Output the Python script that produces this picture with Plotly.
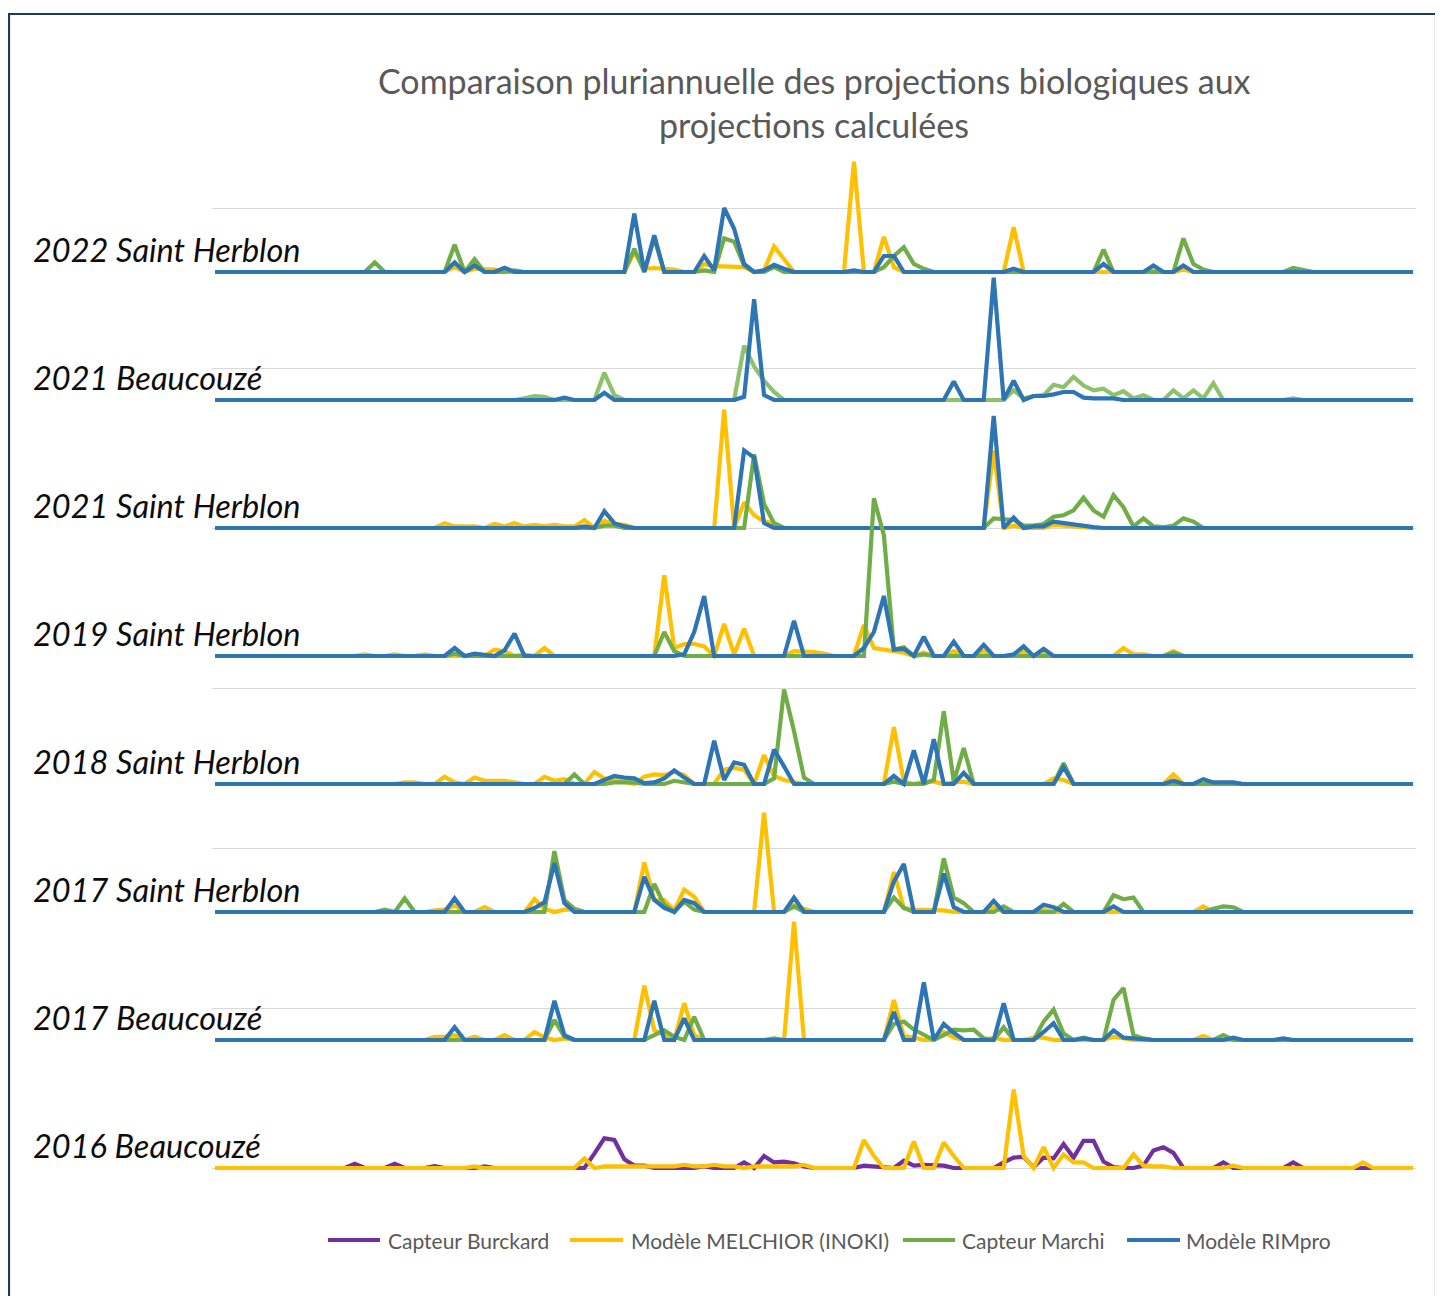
import plotly.graph_objects as go

# ---------------- DATA ----------------
N_DAYS = 121
DAYS = list(range(N_DAYS))

ROW_LABELS = ["2022 Saint Herblon", "2021 Beaucouzé", "2021 Saint Herblon", "2019 Saint Herblon",
              "2018 Saint Herblon", "2017 Saint Herblon", "2017 Beaucouzé", "2016 Beaucouzé"]
ROW_OFFSETS = [56, 48, 40, 32, 24, 16, 8, 0]

SERIES_NAMES = ["Capteur Burckard", "Modèle MELCHIOR (INOKI)", "Capteur Marchi", "Modèle RIMpro"]

# values per day index (days not listed are 0)
SH2022_MELCHIOR = {24: 0.3, 26: 0.2, 27: 0.15, 28: 0.15, 42: 1.25, 43: 0.2, 44: 0.25, 45: 0.2, 46: 0.15,
                   49: 0.5, 50: 0.35, 51: 0.35, 52: 0.3, 53: 0.3, 55: 0.1, 56: 1.6, 57: 0.8, 64: 6.9,
                   67: 2.2, 68: 0.3, 80: 2.8, 94: 0.1, 97: 0.15}
SH2022_MARCHI = {16: 0.6, 24: 1.7, 26: 0.8, 30: 0.1, 42: 1.45, 44: 2.1, 49: 0.1, 51: 2.1, 52: 1.9, 53: 0.4,
                 56: 0.3, 67: 0.3, 68: 1.0, 69: 1.55, 70: 0.5, 71: 0.2, 89: 1.4, 97: 2.1, 98: 0.5, 99: 0.15,
                 108: 0.25, 109: 0.1}
SH2022_RIMPRO = {24: 0.6, 26: 0.4, 29: 0.27, 42: 3.65, 44: 2.3, 49: 1.0, 50: 0.1, 51: 4.0, 52: 2.7, 53: 0.5,
                 55: 0.1, 56: 0.45, 57: 0.2, 64: 0.1, 67: 1.0, 68: 1.0, 80: 0.2, 89: 0.5, 94: 0.4, 97: 0.4}

B2021_MARCHI = {31: 0.1, 32: 0.25, 33: 0.2, 39: 1.7, 40: 0.3, 53: 3.4, 54: 2.1, 55: 1.2, 56: 0.5, 80: 0.6,
                81: 0.1, 82: 0.25, 83: 0.3, 84: 0.95, 85: 0.8, 86: 1.45, 87: 0.9, 88: 0.6, 89: 0.7, 90: 0.3,
                91: 0.55, 92: 0.1, 93: 0.3, 96: 0.6, 97: 0.1, 98: 0.6, 99: 0.1, 100: 1.05, 108: 0.1}
B2021_RIMPRO = {35: 0.15, 39: 0.45, 53: 0.2, 54: 6.3, 55: 0.3, 74: 1.15, 78: 7.65, 80: 1.2, 82: 0.25,
                83: 0.25, 84: 0.35, 85: 0.5, 86: 0.5, 87: 0.15, 88: 0.1, 89: 0.1, 90: 0.1}

SH2021_MELCHIOR = {23: 0.3, 24: 0.1, 25: 0.1, 26: 0.1, 28: 0.25, 29: 0.1, 30: 0.3, 31: 0.1, 32: 0.2,
                   33: 0.1, 34: 0.2, 35: 0.1, 36: 0.1, 37: 0.5, 39: 0.45, 40: 0.25, 41: 0.2, 51: 7.4,
                   53: 1.6, 54: 0.8, 55: 0.4, 56: 0.3, 78: 4.85, 80: 0.15, 84: 0.2, 85: 0.15, 86: 0.1}
SH2021_MARCHI = {39: 0.15, 40: 0.15, 54: 4.6, 55: 1.5, 56: 0.3, 78: 0.6, 79: 0.55, 80: 0.5, 81: 0.15,
                 82: 0.15, 83: 0.25, 84: 0.7, 85: 0.8, 86: 1.1, 87: 1.9, 88: 1.1, 89: 0.7, 90: 2.05,
                 91: 1.3, 92: 0.1, 93: 0.6, 94: 0.1, 95: 0.05, 96: 0.15, 97: 0.6, 98: 0.4}
SH2021_RIMPRO = {37: 0.1, 39: 1.05, 40: 0.3, 41: 0.1, 53: 4.85, 54: 4.4, 55: 0.3, 78: 7.0, 80: 0.65,
                 82: 0.1, 83: 0.1, 84: 0.4, 85: 0.3, 86: 0.2, 87: 0.1, 88: 0.05}

SH2019_MELCHIOR = {15: 0.1, 18: 0.1, 21: 0.1, 28: 0.4, 29: 0.3, 31: 0.1, 33: 0.5, 45: 5.05, 46: 0.5,
                   47: 0.75, 48: 0.75, 49: 0.6, 51: 2.0, 52: 0.1, 53: 1.7, 58: 0.3, 59: 0.3, 60: 0.25,
                   61: 0.15, 65: 1.95, 66: 0.5, 67: 0.4, 68: 0.3, 69: 0.2, 71: 0.2, 74: 0.3, 77: 0.3,
                   81: 0.3, 83: 0.2, 91: 0.5, 92: 0.1, 93: 0.1, 96: 0.3}
SH2019_MARCHI = {24: 0.15, 45: 1.5, 46: 0.3, 66: 9.85, 67: 7.55, 68: 0.4, 69: 0.55, 71: 0.1, 96: 0.2}
SH2019_RIMPRO = {24: 0.5, 26: 0.15, 27: 0.1, 29: 0.35, 30: 1.4, 47: 0.1, 48: 1.5, 49: 3.75, 58: 2.2,
                 65: 0.5, 66: 1.5, 67: 3.75, 68: 0.4, 69: 0.45, 71: 1.2, 74: 0.9, 77: 0.7, 80: 0.1,
                 81: 0.6, 83: 0.45}

SH2018_MELCHIOR = {19: 0.1, 20: 0.1, 23: 0.45, 24: 0.1, 26: 0.4, 27: 0.2, 28: 0.2, 29: 0.2, 30: 0.1,
                   33: 0.45, 34: 0.2, 35: 0.3, 38: 0.75, 39: 0.35, 40: 0.25, 41: 0.15, 43: 0.45, 44: 0.6,
                   45: 0.55, 46: 0.75, 47: 0.55, 51: 0.9, 52: 1.0, 53: 0.9, 55: 1.8, 56: 0.5, 57: 0.25,
                   58: 0.1, 68: 3.55, 69: 0.15, 71: 0.15, 72: 0.15, 74: 0.1, 75: 0.15, 84: 0.35, 85: 0.25,
                   96: 0.6, 101: 0.1}
SH2018_MARCHI = {36: 0.6, 40: 0.1, 41: 0.1, 42: 0.1, 46: 0.2, 47: 0.1, 56: 0.35, 57: 5.9, 58: 3.3,
                 59: 0.4, 68: 0.15, 72: 0.25, 73: 4.55, 74: 0.15, 75: 2.25, 85: 1.3}
SH2018_RIMPRO = {39: 0.25, 40: 0.5, 41: 0.4, 42: 0.35, 43: 0.05, 44: 0.1, 45: 0.35, 46: 0.85, 47: 0.4,
                 50: 2.7, 51: 0.25, 52: 1.35, 53: 1.2, 56: 2.15, 57: 1.1, 68: 0.5, 70: 2.1, 72: 2.8,
                 75: 0.7, 85: 1.05, 96: 0.2, 99: 0.3, 100: 0.1, 101: 0.1, 102: 0.1}

SH2017_MELCHIOR = {22: 0.1, 23: 0.15, 24: 0.4, 27: 0.3, 32: 0.8, 33: 0.2, 35: 0.15, 36: 0.15, 43: 3.1,
                   44: 0.75, 45: 0.75, 46: 0.1, 47: 1.4, 48: 0.95, 55: 6.2, 58: 0.45, 59: 0.2, 68: 2.5,
                   69: 0.25, 70: 0.15, 71: 0.15, 72: 0.15, 73: 0.1, 78: 0.3, 83: 0.15, 99: 0.35}
SH2017_MARCHI = {17: 0.15, 19: 0.85, 34: 3.8, 35: 0.75, 36: 0.2, 44: 1.75, 45: 0.45, 47: 0.65, 48: 0.15,
                 58: 0.35, 68: 0.9, 69: 0.25, 73: 3.35, 74: 0.9, 75: 0.55, 79: 0.35, 85: 0.5, 90: 1.05,
                 91: 0.8, 92: 0.9, 100: 0.2, 101: 0.35, 102: 0.3}
SH2017_RIMPRO = {24: 0.85, 32: 0.25, 33: 0.6, 34: 3.05, 35: 0.55, 43: 2.2, 44: 0.75, 45: 0.25, 47: 0.75,
                 48: 0.55, 58: 0.9, 68: 1.9, 69: 3.0, 73: 2.4, 74: 0.3, 78: 0.7, 83: 0.45, 84: 0.3,
                 90: 0.35}

B2017_MELCHIOR = {22: 0.2, 23: 0.2, 24: 0.3, 26: 0.2, 29: 0.3, 32: 0.5, 33: 0.15, 35: 0.1, 43: 3.4,
                  44: 0.6, 45: 0.3, 47: 2.3, 48: 0.3, 58: 7.4, 68: 2.5, 69: 0.25, 70: 0.15, 73: 0.5,
                  74: 0.15, 78: 0.15, 82: 0.15, 83: 0.15, 90: 0.2, 91: 0.1, 99: 0.25}
B2017_MARCHI = {34: 1.25, 35: 0.2, 44: 0.3, 45: 0.6, 46: 0.2, 48: 1.45, 56: 0.1, 68: 1.0, 69: 1.15,
                70: 0.65, 71: 0.35, 73: 0.3, 74: 0.65, 75: 0.6, 76: 0.65, 77: 0.1, 79: 0.8, 83: 1.15,
                84: 1.9, 85: 0.4, 87: 0.15, 90: 2.5, 91: 3.25, 92: 0.3, 93: 0.1, 101: 0.3}
B2017_RIMPRO = {24: 0.8, 34: 2.45, 35: 0.3, 44: 2.45, 47: 1.35, 68: 1.75, 71: 3.6, 73: 1.0, 74: 0.45,
                79: 2.3, 83: 0.5, 84: 1.05, 87: 0.1, 90: 0.6, 91: 0.15, 92: 0.1, 102: 0.15, 107: 0.1}

B2016_BURCKARD = {14: 0.27, 18: 0.27, 22: 0.12, 27: 0.1, 38: 0.9, 39: 1.85, 40: 1.75, 41: 0.55, 42: 0.15,
                  43: 0.15, 49: 0.1, 53: 0.35, 55: 0.75, 56: 0.35, 57: 0.4, 58: 0.3, 59: 0.1, 65: 0.15,
                  66: 0.1, 69: 0.45, 70: 0.15, 71: 0.2, 72: 0.2, 73: 0.15, 79: 0.35, 80: 0.65, 81: 0.7,
                  82: 0.05, 83: 0.65, 84: 0.6, 85: 1.5, 86: 0.65, 87: 1.7, 88: 1.7, 89: 0.4, 90: 0.05,
                  93: 0.15, 94: 1.1, 95: 1.3, 96: 0.95, 101: 0.35, 108: 0.35}
B2016_MELCHIOR = {26: 0.1, 37: 0.6, 39: 0.1, 40: 0.1, 41: 0.1, 42: 0.1, 43: 0.1, 44: 0.1, 45: 0.1,
                  46: 0.1, 47: 0.2, 48: 0.1, 49: 0.1, 50: 0.2, 51: 0.1, 52: 0.1, 54: 0.1, 55: 0.1,
                  56: 0.1, 57: 0.1, 58: 0.1, 59: 0.2, 65: 1.75, 66: 0.75, 70: 1.65, 73: 1.6, 74: 0.75,
                  80: 4.9, 81: 0.75, 83: 1.3, 85: 0.85, 86: 0.35, 87: 0.35, 92: 0.85, 93: 0.15, 94: 0.1,
                  95: 0.1, 102: 0.15, 115: 0.35}

ROWS = [
    {"Modèle MELCHIOR (INOKI)": SH2022_MELCHIOR, "Capteur Marchi": SH2022_MARCHI, "Modèle RIMpro": SH2022_RIMPRO},
    {"Capteur Marchi": B2021_MARCHI, "Modèle RIMpro": B2021_RIMPRO},
    {"Modèle MELCHIOR (INOKI)": SH2021_MELCHIOR, "Capteur Marchi": SH2021_MARCHI, "Modèle RIMpro": SH2021_RIMPRO},
    {"Modèle MELCHIOR (INOKI)": SH2019_MELCHIOR, "Capteur Marchi": SH2019_MARCHI, "Modèle RIMpro": SH2019_RIMPRO},
    {"Modèle MELCHIOR (INOKI)": SH2018_MELCHIOR, "Capteur Marchi": SH2018_MARCHI, "Modèle RIMpro": SH2018_RIMPRO},
    {"Modèle MELCHIOR (INOKI)": SH2017_MELCHIOR, "Capteur Marchi": SH2017_MARCHI, "Modèle RIMpro": SH2017_RIMPRO},
    {"Modèle MELCHIOR (INOKI)": B2017_MELCHIOR, "Capteur Marchi": B2017_MARCHI, "Modèle RIMpro": B2017_RIMPRO},
    {"Capteur Burckard": B2016_BURCKARD, "Modèle MELCHIOR (INOKI)": B2016_MELCHIOR},
]

# ---------------- STYLE ----------------
COLORS = {"Capteur Burckard": "#7030A0", "Modèle MELCHIOR (INOKI)": "#FFC000",
          "Capteur Marchi": "#70AD47", "Modèle RIMpro": "#2E75B6"}
LIGHT_MARCHI = "#8DC26B"   # lighter green used in the 2021 Beaucouzé row
LINE_W = 4.2

# the page body has an 8 px margin: figure pixel = screen pixel - 8
PAGE_OFF = 8
W, H = 1435, 1288
ML, MR, MT, MB = 204, 27, 136, 120
PW, PH = W - ML - MR, H - MT - MB


def px_x(p):  # screen x pixel -> paper x
    return (p - PAGE_OFF - ML) / PW


def px_y(p):  # screen y pixel -> paper y
    return (H - MB - (p - PAGE_OFF)) / PH


fig = go.Figure()

for r, (label, off, row) in enumerate(zip(ROW_LABELS, ROW_OFFSETS, ROWS)):
    for name in SERIES_NAMES:
        if name not in row:
            continue
        vals = row[name]
        y = [off + vals.get(d, 0.0) for d in DAYS]
        col = COLORS[name]
        if name == "Capteur Marchi" and label == "2021 Beaucouzé":
            col = LIGHT_MARCHI
        fig.add_trace(go.Scatter(x=DAYS, y=y, mode="lines", name=name, showlegend=False,
                                 line=dict(color=col, width=LINE_W, shape="linear"),
                                 hoverinfo="skip"))

annotations = []
for label, off in zip(ROW_LABELS, ROW_OFFSETS):
    annotations.append(dict(x=px_x(31), xref="paper", y=off + 1.4, yref="y", text=label,
                            showarrow=False, xanchor="left", yanchor="middle",
                            font=dict(family="Lato", size=32.5, color="#0D0D0D", style="italic")))

# title (two lines, centred over the plot area)
annotations.append(dict(x=0.5, xref="paper", y=px_y(81), yref="paper",
                        text="Comparaison pluriannuelle des projections biologiques aux",
                        showarrow=False, xanchor="center", yanchor="middle",
                        font=dict(family="Lato", size=34, color="#595959")))
annotations.append(dict(x=0.5, xref="paper", y=px_y(125), yref="paper",
                        text="projections calculées",
                        showarrow=False, xanchor="center", yanchor="middle",
                        font=dict(family="Lato", size=34, color="#595959")))

# legend (drawn manually to match the original layout)
LEGEND_POS = [(328, 380, 386), (570, 623, 629), (903, 955, 960), (1127, 1180, 1184)]
shapes = []
for name, (x0, x1, xt) in zip(SERIES_NAMES, LEGEND_POS):
    shapes.append(dict(type="line", xref="paper", yref="paper", x0=px_x(x0), x1=px_x(x1),
                       y0=px_y(1240), y1=px_y(1240), line=dict(color=COLORS[name], width=4.2)))
    annotations.append(dict(x=px_x(xt), xref="paper", y=px_y(1240), yref="paper", text=name,
                            showarrow=False, xanchor="left", yanchor="middle",
                            font=dict(family="Lato", size=21, color="#595959")))

# outer border
shapes.append(dict(type="rect", xref="paper", yref="paper", x0=px_x(9), x1=px_x(1436),
                   y0=px_y(1320), y1=px_y(14), line=dict(color="#1F3B5C", width=2.2),
                   fillcolor="rgba(0,0,0,0)", layer="above"))

fig.update_layout(
    width=W, height=H,
    margin=dict(l=ML, r=MR, t=MT, b=MB, pad=0),
    paper_bgcolor="white", plot_bgcolor="white",
    showlegend=False,
    xaxis=dict(range=[-0.3, N_DAYS - 1 + 0.3], showgrid=False, zeroline=False, showticklabels=False,
               showline=False, ticks=""),
    yaxis=dict(range=[-0.5, 64], tick0=0, dtick=10, showgrid=True, gridcolor="#D9D9D9", gridwidth=1.3,
               zeroline=False, showticklabels=False, showline=False, ticks=""),
    annotations=annotations, shapes=shapes,
)

fig.write_html("out.html")
